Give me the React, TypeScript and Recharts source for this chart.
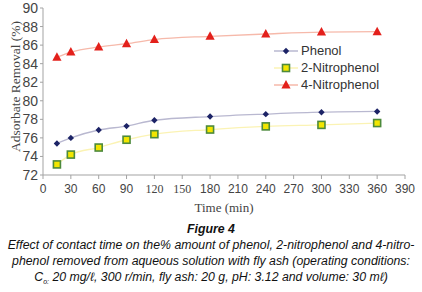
import React from "react";
import { LineChart, Line, XAxis, YAxis } from "recharts";

const times = [15, 30, 60, 90, 120, 180, 240, 300, 360];
const phenol = [75.4, 76.0, 76.85, 77.27, 77.9, 78.3, 78.56, 78.77, 78.85];
const nitro2 = [73.14, 74.2, 74.96, 75.8, 76.4, 76.9, 77.24, 77.4, 77.6];
const nitro4 = [84.7, 85.25, 85.8, 86.15, 86.6, 86.95, 87.2, 87.4, 87.45];
const xTicks = [0, 30, 60, 90, 120, 150, 180, 210, 240, 270, 300, 330, 360, 390];
const yTicks = [72, 74, 76, 78, 80, 82, 84, 86, 88, 90];
const serifTickLabels = [120, 150];

const data = times.map((t, i) => ({ t, phenol: phenol[i], nitro2: nitro2[i], nitro4: nitro4[i] }));

const SANS = "'Liberation Sans', Arial, sans-serif";
const SERIF = "'Liberation Serif', 'Times New Roman', serif";

const PhenolDot = (p: any) => {
  const { cx, cy } = p;
  if (cx == null || cy == null) return null;
  return <path key={`p${p.index}`} d={`M${cx},${cy - 3.2}L${cx + 3.2},${cy}L${cx},${cy + 3.2}L${cx - 3.2},${cy}Z`} fill="#1c2366" />;
};
const N2Dot = (p: any) => {
  const { cx, cy } = p;
  if (cx == null || cy == null) return null;
  return <rect key={`n2${p.index}`} x={cx - 3.5} y={cy - 3.5} width={7} height={7} fill="#f2e600" stroke="#4d8a3c" strokeWidth={1.6} />;
};
const N4Dot = (p: any) => {
  const { cx, cy } = p;
  if (cx == null || cy == null) return null;
  return <path key={`n4${p.index}`} d={`M${cx},${cy - 5}L${cx + 4.6},${cy + 3.5}L${cx - 4.6},${cy + 3.5}Z`} fill="#e3201b" />;
};

const XTick = (props: any) => {
  const { x, y, payload } = props;
  const serif = serifTickLabels.includes(payload.value);
  return (
    <text x={x} y={y + 12} textAnchor="middle" fontFamily={serif ? SERIF : SANS} fontSize={12} fill="#444">
      {payload.value}
    </text>
  );
};

const YLabel = (props: any) => {
  const vb = props.viewBox || { y: 8, height: 167 };
  const cy = vb.y + vb.height / 2 - 5;
  return (
    <text x={15.5} y={cy} transform={`rotate(-90, 15.5, ${cy})`} textAnchor="middle" dominantBaseline="central" fontFamily={SERIF} fontSize={13.5} fill="#444">
      Adsorbate Removal (%)
    </text>
  );
};

const legendItems = [
  { name: "Phenol", line: "#b9b8d0", kind: "p" },
  { name: "2-Nitrophenol", line: "#fbf3b4", kind: "n2" },
  { name: "4-Nitrophenol", line: "#f6b9aa", kind: "n4" },
];

const LegendBox = () => (
  <div style={{ position: "absolute", left: 274, top: 42, fontFamily: SANS, fontSize: 13, color: "#333" }}>
    {legendItems.map((it) => (
      <div key={it.name} style={{ display: "flex", alignItems: "center", height: 17 }}>
        <svg width={26} height={12} style={{ marginRight: 1 }}>
          <line x1={0} y1={6} x2={24} y2={6} stroke={it.line} strokeWidth={1.5} />
          {it.kind === "p" && PhenolDot({ cx: 12, cy: 6, index: 0 })}
          {it.kind === "n2" && N2Dot({ cx: 12, cy: 6, index: 0 })}
          {it.kind === "n4" && N4Dot({ cx: 12, cy: 6, index: 0 })}
        </svg>
        <span>{it.name}</span>
      </div>
    ))}
  </div>
);

export default function App() {
  return (
    <div style={{ position: "absolute", left: 0, top: 0, width: 422, height: 292, background: "#fff" }}>
      <LineChart width={422} height={216} data={data} margin={{ top: 8, right: 17, bottom: 0, left: 0 }}>
        <XAxis
          dataKey="t"
          type="number"
          domain={[0, 390]}
          ticks={xTicks}
          interval={0}
          stroke="#a3a3a3"
          tickSize={4}
          tick={<XTick />}
          height={41}
          label={{ value: "Time (min)", position: "insideBottom", offset: 4, fontFamily: SERIF, fontSize: 13, fill: "#444" }}
        />
        <XAxis xAxisId="top" orientation="top" type="number" domain={[0, 390]} tick={false} tickLine={false} stroke="#a3a3a3" height={0} />
        <YAxis
          type="number"
          domain={[72, 90]}
          ticks={yTicks}
          interval={0}
          stroke="#a3a3a3"
          tickSize={3}
          width={43}
          tick={{ fontFamily: SANS, fontSize: 14, fill: "#444" }}
          label={<YLabel />}
        />
        <YAxis yAxisId="right" orientation="right" tick={false} tickLine={false} stroke="#a3a3a3" width={0} />
        <Line dataKey="phenol" name="Phenol" stroke="#b9b8d0" strokeWidth={1.3} dot={PhenolDot} isAnimationActive={false} type="monotone" />
        <Line dataKey="nitro2" name="2-Nitrophenol" stroke="#fbf3b4" strokeWidth={1.3} dot={N2Dot} isAnimationActive={false} type="monotone" />
        <Line dataKey="nitro4" name="4-Nitrophenol" stroke="#f6b9aa" strokeWidth={1.3} dot={N4Dot} isAnimationActive={false} type="monotone" />
      </LineChart>
      <LegendBox />
      <div style={{ position: "absolute", left: 0, top: 221, width: 422, textAlign: "center", fontFamily: SANS, fontStyle: "italic", fontSize: 12.3, lineHeight: "16px", color: "#111", whiteSpace: "nowrap" }}>
        <div style={{ fontWeight: "bold" }}>Figure 4</div>
        <div>Effect of contact time on the% amount of phenol, 2-nitrophenol and 4-nitro-</div>
        <div>phenol removed from aqueous solution with fly ash (operating conditions:</div>
        <div>
          C<sub style={{ fontSize: 7, lineHeight: 0 }}>o:</sub> 20 mg/ℓ, 300 r/min, fly ash: 20 g, pH: 3.12 and volume: 30 mℓ)
        </div>
      </div>
    </div>
  );
}
